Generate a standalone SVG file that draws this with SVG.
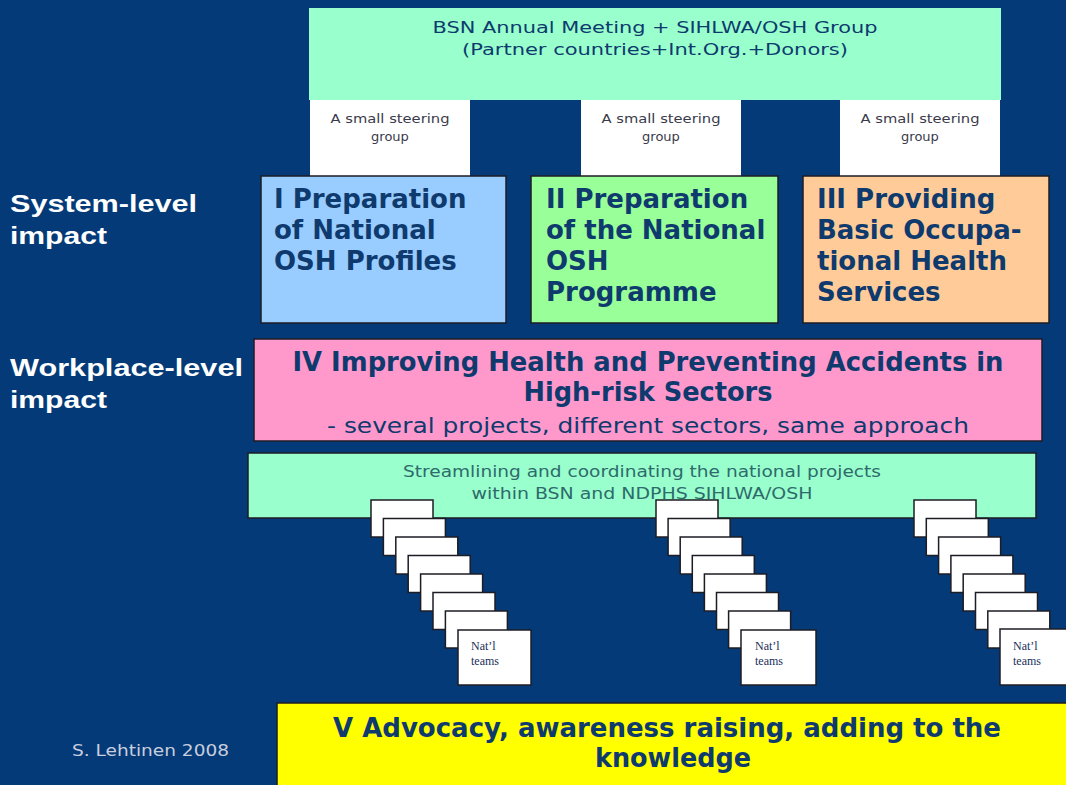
<svg xmlns="http://www.w3.org/2000/svg" width="1066" height="785" viewBox="0 0 1066 785">
<style>
.bg{fill:#043a78}
.box{stroke:#1c1c24;stroke-width:1.5}
.nb{stroke:none}
.t{font-family:"DejaVu Sans",Verdana,sans-serif;fill:#0e3a6e}
.big{font-family:"DejaVu Sans",Verdana,sans-serif;font-weight:bold;font-size:26px;fill:#0e3a6e}
.small{font-family:"DejaVu Sans",Verdana,sans-serif;font-size:13px;fill:#3a3a4a}
.stream{font-family:"DejaVu Sans",Verdana,sans-serif;font-size:15px;fill:#2f6a6c}
.lab{font-family:"Liberation Sans",Arial,sans-serif;font-weight:bold;font-size:24px;fill:#ffffff}
.card{fill:#ffffff;stroke:#1c1c24;stroke-width:1.5}
.nat{font-family:"Liberation Serif","Times New Roman",serif;font-size:12px;fill:#1a2f5a}
</style>
<rect class="bg" x="0" y="0" width="1066" height="785"/>

<g id="left-labels">
<text class="lab" x="10" y="212" textLength="187" lengthAdjust="spacingAndGlyphs">System-level</text>
<text class="lab" x="10" y="244" textLength="97" lengthAdjust="spacingAndGlyphs">impact</text>
<text class="lab" x="10" y="376" textLength="233" lengthAdjust="spacingAndGlyphs">Workplace-level</text>
<text class="lab" x="10" y="408" textLength="97" lengthAdjust="spacingAndGlyphs">impact</text>
</g>

<g id="annual-meeting">
<rect x="309" y="8" width="692" height="92" fill="#99ffcc"/>
<text class="t" font-size="16" x="655" y="33" text-anchor="middle" textLength="445" lengthAdjust="spacingAndGlyphs">BSN Annual Meeting + SIHLWA/OSH Group</text>
<text class="t" font-size="16" x="655" y="55" text-anchor="middle" textLength="386" lengthAdjust="spacingAndGlyphs">(Partner countries+Int.Org.+Donors)</text>
</g>

<g id="steering-1">
<rect x="310" y="100" width="160" height="76" fill="#ffffff"/>
<text class="small" x="390" y="123" text-anchor="middle" textLength="119" lengthAdjust="spacingAndGlyphs">A small steering</text>
<text class="small" x="390" y="141" text-anchor="middle">group</text>
</g>
<g id="steering-2">
<rect x="581" y="100" width="160" height="76" fill="#ffffff"/>
<text class="small" x="661" y="123" text-anchor="middle" textLength="119" lengthAdjust="spacingAndGlyphs">A small steering</text>
<text class="small" x="661" y="141" text-anchor="middle">group</text>
</g>
<g id="steering-3">
<rect x="840" y="100" width="160" height="76" fill="#ffffff"/>
<text class="small" x="920" y="123" text-anchor="middle" textLength="119" lengthAdjust="spacingAndGlyphs">A small steering</text>
<text class="small" x="920" y="141" text-anchor="middle">group</text>
</g>

<g id="box-I">
<rect class="box" x="261" y="176" width="245" height="147" fill="#99ccff"/>
<text class="big" x="274" y="208">I Preparation</text>
<text class="big" x="274" y="239">of National</text>
<text class="big" x="274" y="270">OSH Profiles</text>
</g>
<g id="box-II">
<rect class="box" x="531" y="176" width="247" height="147" fill="#99ff99"/>
<text class="big" x="546" y="208">II Preparation</text>
<text class="big" x="546" y="239">of the National</text>
<text class="big" x="546" y="270">OSH</text>
<text class="big" x="546" y="301">Programme</text>
</g>
<g id="box-III">
<rect class="box" x="803" y="176" width="246" height="147" fill="#ffcc99"/>
<text class="big" x="817" y="208">III Providing</text>
<text class="big" x="817" y="239">Basic Occupa-</text>
<text class="big" x="817" y="270">tional Health</text>
<text class="big" x="817" y="301">Services</text>
</g>

<g id="box-IV">
<rect class="box" x="254" y="339" width="788" height="102" fill="#ff99cc"/>
<text class="big" x="648" y="371" text-anchor="middle" textLength="711" lengthAdjust="spacingAndGlyphs">IV Improving Health and Preventing Accidents in</text>
<text class="big" x="648" y="401" text-anchor="middle" textLength="249" lengthAdjust="spacingAndGlyphs">High-risk Sectors</text>
<text class="t" font-size="22" x="648" y="433" text-anchor="middle" textLength="642" lengthAdjust="spacingAndGlyphs">- several projects, different sectors, same approach</text>
</g>

<g id="streamlining">
<rect class="box" x="248" y="453" width="788" height="65" fill="#99ffcc"/>
<text class="stream" x="642" y="477" text-anchor="middle" textLength="478" lengthAdjust="spacingAndGlyphs">Streamlining and coordinating the national projects</text>
<text class="stream" x="642" y="499" text-anchor="middle" textLength="341" lengthAdjust="spacingAndGlyphs">within BSN and NDPHS SIHLWA/OSH</text>
</g>

<g id="teams-1">
<rect class="card" x="371" y="500" width="62" height="37"/>
<rect class="card" x="383.4" y="518.5" width="62" height="37"/>
<rect class="card" x="395.8" y="537" width="62" height="37"/>
<rect class="card" x="408.2" y="555.5" width="62" height="37"/>
<rect class="card" x="420.6" y="574" width="62" height="37"/>
<rect class="card" x="433" y="592.5" width="62" height="37"/>
<rect class="card" x="445.4" y="611" width="62" height="37"/>
<rect class="card" x="458" y="630" width="73" height="55"/>
<text class="nat" x="471" y="650">Nat’l</text>
<text class="nat" x="471" y="665">teams</text>
</g>
<g id="teams-2">
<rect class="card" x="656" y="500" width="62" height="37"/>
<rect class="card" x="668.1" y="518.5" width="62" height="37"/>
<rect class="card" x="680.2" y="537" width="62" height="37"/>
<rect class="card" x="692.3" y="555.5" width="62" height="37"/>
<rect class="card" x="704.4" y="574" width="62" height="37"/>
<rect class="card" x="716.5" y="592.5" width="62" height="37"/>
<rect class="card" x="728.6" y="611" width="62" height="37"/>
<rect class="card" x="741" y="630" width="75" height="55"/>
<text class="nat" x="755" y="650">Nat’l</text>
<text class="nat" x="755" y="665">teams</text>
</g>
<g id="teams-3">
<rect class="card" x="914" y="500" width="62" height="37"/>
<rect class="card" x="926.3" y="518.5" width="62" height="37"/>
<rect class="card" x="938.6" y="537" width="62" height="37"/>
<rect class="card" x="950.9" y="555.5" width="62" height="37"/>
<rect class="card" x="963.2" y="574" width="62" height="37"/>
<rect class="card" x="975.5" y="592.5" width="62" height="37"/>
<rect class="card" x="987.8" y="611" width="62" height="37"/>
<rect class="card" x="1000" y="629" width="75" height="56"/>
<text class="nat" x="1013" y="650">Nat’l</text>
<text class="nat" x="1013" y="665">teams</text>
</g>

<g id="box-V">
<rect class="box" x="277" y="703" width="800" height="90" fill="#ffff00"/>
<text class="big" x="667" y="737" text-anchor="middle" textLength="668" lengthAdjust="spacingAndGlyphs">V Advocacy, awareness raising, adding to the</text>
<text class="big" x="673" y="767" text-anchor="middle" textLength="156" lengthAdjust="spacingAndGlyphs">knowledge</text>
</g>

<g id="credit">
<text font-family="DejaVu Sans,Verdana,sans-serif" font-size="15" fill="#c8cede" x="72" y="756" textLength="157" lengthAdjust="spacingAndGlyphs">S. Lehtinen 2008</text>
</g>
<g id="connectors"></g>
</svg>
